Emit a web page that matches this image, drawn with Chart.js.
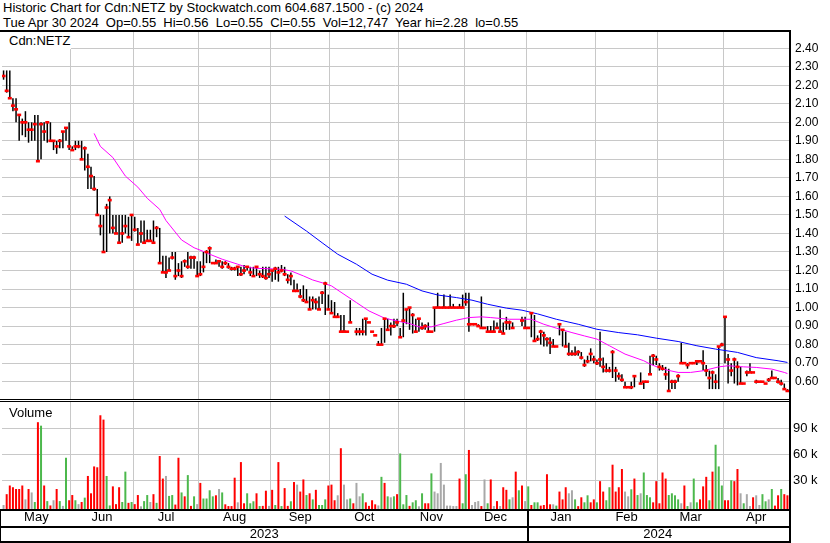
<!DOCTYPE html>
<html>
<head>
<meta charset="utf-8">
<script src="https://cdn.jsdelivr.net/npm/chart.js@4/dist/chart.umd.min.js"></script>
<style>
  body { margin: 0; background: #fff; width: 830px; height: 543px; position: relative; overflow: hidden;
         font-family: "Liberation Sans", Arial, sans-serif; color: #000; }
  #hdr { position: absolute; left: 3px; top: 0; font-size: 13px; line-height: 15px; white-space: pre; }
  .rule { position: absolute; background: #000; }
  canvas { position: absolute; left: 0; }
  #cPrice { top: 32px; }
  #cVol { top: 402px; }
  .tag { position: absolute; font-size: 13px; line-height: 15px; background: #fff; }
</style>
</head>
<body>
<div id="hdr">Historic Chart for Cdn:NETZ by Stockwatch.com 604.687.1500 - (c) 2024
Tue Apr 30 2024  Op=0.55  Hi=0.56  Lo=0.55  Cl=0.55  Vol=12,747  Year hi=2.28  lo=0.55</div>

<canvas id="cPrice" width="830" height="367"></canvas>
<canvas id="cVol" width="830" height="139"></canvas>

<div class="tag" style="left:1px;top:32px;width:62px;height:16px;padding:1px 0 0 8px;">Cdn:NETZ</div>
<div class="tag" style="left:2px;top:405px;padding-left:7px;background:none;">Volume</div>

<!-- frame -->
<div class="rule" style="left:0;top:30px;width:791px;height:2px"></div>
<div class="rule" style="left:789px;top:30px;width:2px;height:513px"></div>
<div class="rule" style="left:0;top:399px;width:790px;height:1px"></div>
<div class="rule" style="left:0;top:401px;width:790px;height:1px"></div>
<div class="rule" style="left:0;top:509px;width:790px;height:2px"></div>
<div class="rule" style="left:0;top:526px;width:790px;height:2px"></div>
<div class="rule" style="left:0;top:541px;width:790px;height:2px"></div>
<div class="rule" style="left:527px;top:509px;width:2px;height:34px"></div>
<div class="rule" style="left:0;top:509px;width:1px;height:34px"></div>

<script>
// ─── Data ─────────────────────────────────────────────
const monthNames = ['May', 'Jun', 'Jul', 'Aug', 'Sep', 'Oct', 'Nov', 'Dec', 'Jan', 'Feb', 'Mar', 'Apr']
const monthStart = [0, 22, 42, 63, 86, 105, 127, 148, 168, 190, 210, 231]
const yearNames  = ['2023', '2024']
const yearStart  = [0, 168]
const DAYS       = 252

const priceTicks = [0.6, 0.7, 0.8, 0.9, 1.0, 1.1, 1.2, 1.3, 1.4, 1.5, 1.6, 1.7, 1.8, 1.9, 2.0, 2.1, 2.2, 2.3, 2.4]
const volTicks   = [30000, 60000, 90000]

const high = [
  2.28, 2.28, 2.28, 2.13, 2.13, 2.04, 2.02, 2.06, 2.00, 2.00,
  2.04, 2.04, 2.00, 2.00, 2.00, 2.00, 1.90, 1.90, 1.91, 1.95,
  1.97, 2.00, 1.87, 1.90, 1.90, 1.90, 1.87, 1.83, 1.76, 1.71,
  1.64, 1.50, 1.50, 1.56, 1.60, 1.50, 1.50, 1.50, 1.50, 1.50,
  1.49, 1.50, 1.49, 1.43, 1.47, 1.47, 1.42, 1.42, 1.47, 1.44,
  1.43, 1.28, 1.28, 1.27, 1.30, 1.30, 1.24, 1.25, 1.26, 1.30,
  1.28, 1.28, 1.25, 1.25, 1.30, 1.31, 1.33, 1.24, 1.26, 1.25,
  1.25, 1.25, 1.24, 1.22, 1.22, 1.22, 1.22, 1.23, 1.22, 1.22,
  1.22, 1.22, 1.20, 1.22, 1.22, 1.22, 1.20, 1.22, 1.22, 1.23,
  1.22, 1.18, 1.19, 1.15, 1.13, 1.10, 1.12, 1.10, 1.06, 1.06,
  1.05, 1.06, 1.09, 1.14, 1.07, 1.04, 1.03, 0.97, 0.96, 0.96,
  0.87, 1.04, null, 0.89, 0.89, 0.94, 0.94, 0.92, 0.87, 0.85,
  0.82, 0.89, 0.94, 0.94, 0.92, 0.94, 0.94, 0.89, 1.08, 0.99,
  1.00, 0.97, 0.94, 0.94, 0.92, 0.91, 0.92, 0.87, 1.00, 1.08,
  1.00, 1.07, 1.00, 1.07, 1.02, 1.00, 1.02, 1.07, 1.08, 1.08,
  0.91, 0.91, 0.91, 1.06, 0.89, 0.90, 0.90, 0.93, 0.92, 0.99,
  0.92, 0.95, 0.93, 0.92, null, null, 0.95, 0.95, 0.89, 0.97,
  0.96, 0.85, 0.88, 0.87, 0.84, 0.84, 0.83, 0.79, 0.91, 0.88,
  0.87, 0.81, 0.77, 0.79, 0.77, 0.76, 0.72, 0.74, 0.78, 0.74,
  0.72, 0.87, 0.73, 0.70, 0.68, 0.77, 0.68, 0.65, 0.64, 0.60,
  0.57, 0.60, 0.63, null, 0.65, 0.60, 0.60, 0.74, 0.75, 0.74,
  0.70, 0.69, 0.68, 0.67, 0.61, 0.61, 0.64, 0.81, 0.70, 0.70,
  0.70, 0.70, 0.71, 0.71, 0.77, 0.69, 0.66, 0.66, 0.64, 0.79,
  0.81, 0.95, 0.75, 0.70, 0.73, 0.71, 0.68, 0.59, 0.66, 0.70,
  0.65, 0.61, 0.60, 0.60, 0.59, 0.62, 0.66, 0.62, 0.62, 0.61,
  0.59, 0.56
]
const low = [
  2.23, 2.16, 2.13, 2.06, 2.00, 1.90, 1.93, 1.92, 1.89, 1.90,
  1.90, 1.79, 1.80, 1.90, 1.89, 1.90, 1.85, 1.83, 1.86, 1.86,
  1.90, 1.85, 1.85, 1.85, 1.86, 1.80, 1.74, 1.64, 1.64, 1.63,
  1.50, 1.39, 1.30, 1.30, 1.40, 1.40, 1.40, 1.35, 1.35, 1.40,
  1.38, 1.36, 1.41, 1.34, 1.35, 1.35, 1.36, 1.36, 1.35, 1.38,
  1.24, 1.19, 1.16, 1.20, 1.26, 1.15, 1.17, 1.16, 1.22, 1.21,
  1.21, 1.21, 1.17, 1.17, 1.19, 1.24, 1.24, 1.24, 1.24, 1.22,
  1.21, 1.23, 1.21, 1.20, 1.20, 1.17, 1.17, 1.18, 1.20, 1.17,
  1.17, 1.17, 1.16, 1.16, 1.15, 1.16, 1.14, 1.15, 1.14, 1.19,
  1.17, 1.13, 1.12, 1.09, 1.09, 1.05, 1.03, 1.03, 0.99, 0.99,
  0.99, 0.99, 1.02, 0.96, 0.99, 0.97, 0.95, 0.95, 0.87, 0.87,
  0.87, 0.92, null, 0.85, 0.85, 0.85, 0.85, 0.92, 0.87, 0.85,
  0.80, 0.80, 0.81, 0.88, 0.85, 0.89, 0.90, 0.84, 0.84, 0.91,
  0.88, 0.86, 0.87, 0.87, 0.88, 0.88, 0.87, 0.87, 0.87, 1.00,
  1.00, 1.00, 1.00, 1.00, 1.00, 1.00, 1.00, 1.00, 1.01, 0.87,
  0.91, 0.91, 0.90, 0.89, 0.89, 0.87, 0.87, 0.87, 0.89, 0.87,
  0.86, 0.88, 0.88, 0.89, null, null, 0.90, 0.89, 0.89, 0.84,
  0.82, 0.82, 0.80, 0.79, 0.79, 0.75, 0.79, 0.79, 0.85, 0.79,
  0.79, 0.74, 0.74, 0.74, 0.74, 0.72, 0.68, 0.70, 0.71, 0.70,
  0.69, 0.68, 0.65, 0.65, 0.65, 0.62, 0.60, 0.61, 0.60, 0.57,
  0.57, 0.56, 0.57, null, 0.59, 0.56, 0.60, 0.64, 0.69, 0.69,
  0.66, 0.66, 0.61, 0.55, 0.56, 0.56, 0.60, 0.70, 0.70, 0.67,
  0.70, 0.70, 0.69, 0.71, 0.66, 0.63, 0.56, 0.56, 0.56, 0.56,
  0.79, 0.70, 0.59, 0.63, 0.59, 0.58, 0.59, 0.59, 0.63, 0.65,
  0.65, 0.59, 0.60, 0.60, 0.59, 0.60, 0.62, 0.62, 0.59, 0.58,
  0.56, 0.55
]
const close = [
  2.25, 2.17, 2.13, 2.09, 2.07, 2.04, 2.00, 2.00, 1.96, 1.96,
  1.99, 1.79, 1.99, 1.95, 2.00, 1.90, 1.90, 1.87, 1.90, 1.95,
  1.97, 1.87, 1.85, 1.87, 1.87, 1.80, 1.86, 1.76, 1.71, 1.64,
  1.50, 1.44, 1.30, 1.54, 1.58, 1.43, 1.40, 1.35, 1.40, 1.44,
  1.38, 1.50, 1.42, 1.34, 1.40, 1.35, 1.36, 1.36, 1.35, 1.43,
  1.24, 1.19, 1.19, 1.20, 1.27, 1.17, 1.20, 1.17, 1.25, 1.22,
  1.27, 1.27, 1.17, 1.18, 1.22, 1.30, 1.32, 1.24, 1.24, 1.25,
  1.22, 1.24, 1.22, 1.21, 1.21, 1.22, 1.18, 1.20, 1.22, 1.19,
  1.17, 1.22, 1.18, 1.17, 1.16, 1.18, 1.20, 1.21, 1.19, 1.20,
  1.18, 1.15, 1.17, 1.09, 1.09, 1.06, 1.04, 1.03, 0.99, 1.04,
  1.03, 0.99, 1.08, 1.13, 0.99, 0.97, 0.95, 0.95, 0.87, 0.87,
  0.87, 0.92, null, 0.87, 0.87, 0.87, 0.94, 0.92, 0.87, 0.85,
  0.80, 0.80, 0.94, 0.88, 0.90, 0.90, 0.92, 0.84, 0.93, 0.99,
  1.00, 0.96, 0.87, 0.94, 0.89, 0.90, 0.87, 0.87, 1.00, 1.00,
  1.00, 1.00, 1.00, 1.00, 1.00, 1.00, 1.00, 1.00, 1.03, 0.91,
  0.91, 0.91, 0.90, 0.89, 0.89, 0.87, 0.87, 0.87, 0.89, 0.87,
  0.86, 0.92, 0.92, 0.89, null, null, 0.93, 0.89, 0.89, 0.97,
  0.82, 0.83, 0.87, 0.85, 0.83, 0.81, 0.79, 0.79, 0.91, 0.88,
  0.79, 0.75, 0.75, 0.75, 0.76, 0.73, 0.69, 0.71, 0.75, 0.72,
  0.70, 0.72, 0.68, 0.66, 0.66, 0.76, 0.66, 0.63, 0.61, 0.57,
  0.57, 0.57, 0.63, null, 0.59, 0.60, 0.60, 0.64, 0.74, 0.72,
  0.68, 0.67, 0.64, 0.55, 0.60, 0.60, 0.63, 0.70, 0.70, 0.69,
  0.70, 0.70, 0.71, 0.71, 0.70, 0.66, 0.62, 0.65, 0.60, 0.79,
  0.80, 0.95, 0.72, 0.66, 0.72, 0.68, 0.59, 0.59, 0.65, 0.65,
  0.65, 0.60, 0.60, 0.60, 0.59, 0.61, 0.62, 0.62, 0.60, 0.59,
  0.56, 0.55
]

// volume in thousands of shares, and day direction: r = down, g = up, n = unchanged
const volK = [
  1.5, 14, 24, 22, 20, 20, 24, 8, 20, 16,
  5, 97, 93, 24, 6, 1, 7, 20, 6, 0.5,
  56, 7, 13, 7, 2.5, 5, 10, 35, 15, 46,
  45, 105, 100, 35, 1, 23, 2.5, 22, 5, 40,
  4, 5, 2.5, 13, 0, 6, 13, 5, 14, 4,
  58, 32, 35, 12, 13, 2, 56, 16, 11.5, 36,
  0.5, 11.5, 2.5, 27, 9, 9, 18.5, 11.5, 12.7, 20,
  16, 2.3, 0.3, 0.3, 33, 4.6, 51, 3.5, 15, 3.5,
  5.8, 15, 0.3, 0.5, 18, 0.5, 19, 1.5, 51, 0.3,
  21, 0.5, 5.8, 28, 25, 17, 31, 13, 15, 8,
  19, 1.5, 1.5, 8, 24, 25, 7, 12.7, 67, 25,
  8, 9, 3.5, 27, 11.5, 15, 4.6, 0.5, 7, 2.3,
  1, 34, 27, 11.5, 10.4, 11.5, 14, 61, 2.3, 13,
  0.5, 4.6, 7, 0, 15, 3.5, 3.5, 38, 17, 15,
  50, 25, 0.8, 0.8, 0.3, 0.3, 32, 3.5, 37, 65,
  1.5, 5, 6, 0.3, 31, 3.5, 31, 0.3, 6, 0.3,
  22, 19, 8, 10.4, 40, 18.5, 24, 6, 23, 1.5,
  4.6, 4.6, 0.8, 1.5, 37, 2.3, 2.3, 0.8, 17, 8,
  22, 15, 18.5, 8, 0.2, 10.4, 4.6, 12.7, 4.6, 8,
  4.6, 29, 17, 7, 22, 48, 17, 22, 43, 17,
  11.5, 19.6, 32, 13, 15, 39, 13, 10.4, 4.6, 29,
  3.5, 39, 32, 13, 15, 12.7, 8, 3.5, 24, 0.3,
  4.6, 32, 4.6, 8, 23, 34, 7, 40, 71, 46,
  24, 7, 7, 30, 29, 43, 15, 3.5, 14, 0.3,
  10.4, 12.7, 1.5, 14, 5.8, 8, 20, 0.8, 12.7, 20,
  14, 12.7
]
const volDir = (
  'nrrrrrrnrn' + 'grgrgrnrgn' + 'grrgnrgrrr' + 'rrrggrrrgg' + 'rgrrnggnrg' +
  'rrnggrrgrg' + 'rgnrggggrn' + 'grrrrnrrgg' + 'grgrrnrgrg' + 'rrgrnrrgrg' +
  'rgggrrrnrn' + 'ngrnngrrrr' + 'ngrgngrggg' + 'rggngrrgnn' + 'nnnnnnrggr' +
  'nnnrngrnrn' + 'rrgnrgrngr' + 'ggrrrrngrr' + 'rnngrrggrr' + 'grrggrrrrn' +
  'ngrgngggrr' + 'rrrggggnrg' + 'nggrrrgrgg' + 'grrgrrngnn' + 'rnnggngrrg' +
  'rr'
).split('')

// moving averages (day index, price)
const maFastDay = [29, 31, 35, 39, 43, 46, 50, 52, 57, 61, 64, 66, 70, 75, 78, 81, 89, 92, 96, 99,
                   102, 105, 109, 113, 117, 122, 126, 130, 133, 137, 141, 145, 149, 153, 156, 162, 169, 173, 177, 182,
                   186, 190, 194, 199, 205, 207, 211, 216, 220, 224, 229, 232, 237, 241, 246, 250, 251]
const maFastVal = [1.94, 1.87, 1.81, 1.71, 1.65, 1.59, 1.53, 1.47, 1.365, 1.323, 1.303, 1.288, 1.261, 1.234, 1.217, 1.212, 1.207, 1.198, 1.171, 1.149,
                   1.134, 1.117, 1.072, 1.027, 0.982, 0.943, 0.928, 0.914, 0.896, 0.896, 0.914, 0.932, 0.946, 0.950, 0.946, 0.937, 0.937, 0.910, 0.889, 0.865,
                   0.847, 0.830, 0.794, 0.749, 0.713, 0.695, 0.668, 0.650, 0.650, 0.659, 0.680, 0.686, 0.680, 0.677, 0.668, 0.650, 0.644]
const maSlowDay = [90, 97, 102, 107, 113, 118, 123, 129, 134, 139, 145, 150, 155, 161, 166, 171, 177, 184, 190, 197,
                   203, 209, 216, 222, 228, 235, 241, 248, 251]
const maSlowVal = [1.494, 1.413, 1.350, 1.288, 1.234, 1.180, 1.148, 1.126, 1.090, 1.068, 1.054, 1.040, 1.018, 0.997, 0.986, 0.966, 0.937, 0.910, 0.883, 0.865,
                   0.853, 0.835, 0.817, 0.794, 0.776, 0.758, 0.730, 0.713, 0.704]

// ─── Style ────────────────────────────────────────────
const GRID    = '#c8c8c8'
const RED     = '#ff0000'
const GREEN   = '#4cb84c'
const GRAY    = '#a8a8a8'
const VOL_MIN = -3100
const VOL_MAX = 120300

Chart.defaults.font.family = '"Liberation Sans", Arial, sans-serif'
Chart.defaults.color = '#000'

// ─── Derived series ───────────────────────────────────
const days = Array.from({ length: DAYS }, (_, i) => i)
const rangeData = days.filter(i => high[i] !== null && high[i] > low[i]).map(i => ({ x: i, y: [low[i], high[i]] }))
const closeData = days.filter(i => close[i] !== null).map(i => ({ x: i, y: close[i] }))
const fastData  = maFastDay.map((d, k) => ({ x: d, y: maFastVal[k] }))
const slowData  = maSlowDay.map((d, k) => ({ x: d, y: maSlowVal[k] }))
const volData   = days.map(i => ({ x: i, y: volK[i] * 1000 }))
const volColors = volDir.map(c => c === 'r' ? RED : c === 'g' ? GREEN : GRAY)

const monthEdges = monthStart.slice(1).map(s => s - 0.5)
const monthMid   = monthStart.map((s, k) => (s + (monthStart[k + 1] ?? DAYS)) / 2 - 0.5)
const yearMid    = yearStart.map((s, k) => (s + (yearStart[k + 1] ?? DAYS)) / 2 - 0.5)

// ─── Shared axis pieces ───────────────────────────────
// scales add label half-heights as padding; the panels here are pinned to exact pixels
const noPad = s => { s.paddingTop = 0; s.paddingBottom = 0; s.paddingLeft = 0; s.paddingRight = 0 }

const dayAxis = (extra) => Object.assign({
  type: 'linear', min: -0.5, max: DAYS - 0.5, offset: false,
  grid: { display: false, offset: false, drawTicks: false },
  border: { display: false },
  ticks: { display: false }
}, extra)

const gridDayAxis = dayAxis({
  grid: { color: GRID, lineWidth: 1, drawTicks: false, offset: false },
  afterBuildTicks: s => { s.ticks = monthEdges.map(v => ({ value: v })) },
  afterFit: s => { s.height = 0; noPad(s) }
})

const baseOptions = {
  responsive: false,
  animation: false,
  events: [],
  layout: { padding: { left: 2, right: 0, top: 0, bottom: 0 }, autoPadding: false },
  plugins: { legend: { display: false }, tooltip: { enabled: false } }
}

// ─── Price chart ──────────────────────────────────────
new Chart(document.getElementById('cPrice'), {
  type: 'bar',
  data: {
    datasets: [
      { type: 'line', data: closeData, showLine: false, pointStyle: 'line', pointRadius: 2,
        borderColor: RED, pointBorderWidth: 2.6, order: 0 },
      { type: 'line', data: fastData, borderColor: '#ff00ff', borderWidth: 1, pointRadius: 0, tension: 0, order: 1 },
      { type: 'line', data: slowData, borderColor: '#0000ff', borderWidth: 1, pointRadius: 0, tension: 0, order: 1 },
      { type: 'bar', data: rangeData, backgroundColor: '#000', barThickness: 1.5, inflateAmount: 0,
        borderWidth: 0, order: 2 }
    ]
  },
  options: Object.assign({}, baseOptions, {
    scales: {
      x: gridDayAxis,
      y: {
        position: 'right', min: 0.5066, max: 2.4874,
        grid: { color: GRID, lineWidth: 1, drawTicks: false },
        border: { display: false },
        afterBuildTicks: s => { s.ticks = priceTicks.map(v => ({ value: v })) },
        afterFit: s => { s.width = 41; noPad(s) },
        ticks: { padding: 6, font: { size: 12 }, callback: v => v.toFixed(2) }
      }
    }
  })
})

// ─── Volume chart ─────────────────────────────────────
new Chart(document.getElementById('cVol'), {
  type: 'bar',
  data: {
    datasets: [
      { data: volData, backgroundColor: volColors, barThickness: 2, inflateAmount: 0, borderWidth: 0, base: VOL_MIN }
    ]
  },
  options: Object.assign({}, baseOptions, {
    scales: {
      x: Object.assign({ weight: 0 }, gridDayAxis),
      xm: dayAxis({
        position: 'bottom', weight: 1,
        afterBuildTicks: s => { s.ticks = monthMid.map(v => ({ value: v })) },
        afterFit: s => { s.height = 18; noPad(s) },
        ticks: { display: true, autoSkip: false, maxRotation: 0, padding: 1, font: { size: 13 },
                 callback: (v, k) => monthNames[k] }
      }),
      xy: dayAxis({
        position: 'bottom', weight: 2,
        afterBuildTicks: s => { s.ticks = yearMid.map(v => ({ value: v })) },
        afterFit: s => { s.height = 14; noPad(s) },
        ticks: { display: true, autoSkip: false, maxRotation: 0, padding: 0, font: { size: 13 },
                 callback: (v, k) => yearNames[k] }
      }),
      y: {
        position: 'right', min: VOL_MIN, max: VOL_MAX,
        grid: { color: GRID, lineWidth: 1, drawTicks: false },
        border: { display: false },
        afterBuildTicks: s => { s.ticks = volTicks.map(v => ({ value: v })) },
        afterFit: s => { s.width = 41; noPad(s) },
        ticks: { padding: 4, font: { size: 13 }, callback: v => `${v / 1000} k` }
      }
    }
  })
})
</script>
</body>
</html>
